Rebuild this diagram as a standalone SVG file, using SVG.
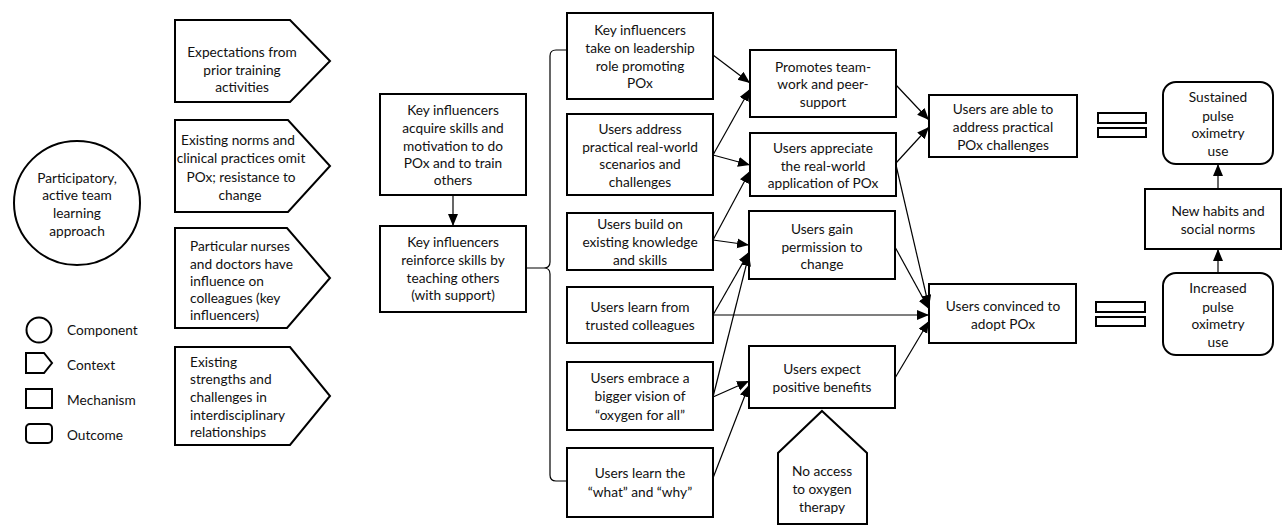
<svg xmlns="http://www.w3.org/2000/svg" width="1282" height="526" viewBox="0 0 1282 526">
<defs>
<marker id="ah" markerUnits="userSpaceOnUse" markerWidth="13" markerHeight="11" refX="12" refY="5" orient="auto" viewBox="0 0 13 11">
<path d="M0,0 L12,5 L0,10 z" fill="#000"/>
</marker>
<style>
.b{fill:#fff;stroke:#000;stroke-width:2}
.t{font-family:Lato,"Liberation Sans",sans-serif;font-size:13.7px;fill:#111;text-anchor:middle}
.l{font-family:Lato,"Liberation Sans",sans-serif;font-size:13.7px;fill:#111;text-anchor:start}
.c{fill:none;stroke:#000;stroke-width:1.2}
.a{fill:none;stroke:#000;stroke-width:1.2;marker-end:url(#ah)}
</style>
</defs>
<rect width="1282" height="526" fill="#fff"/>

<g id="component">
<ellipse class="b" cx="77" cy="203" rx="63" ry="62"/>
<text class="t" x="77" y="183">Participatory,</text>
<text class="t" x="77" y="200">active team</text>
<text class="t" x="77" y="218">learning</text>
<text class="t" x="77" y="236">approach</text>
</g>

<g id="legend">
<circle class="b" cx="39" cy="330" r="12.5"/>
<text class="l" x="67" y="335">Component</text>
<path class="b" d="M26,353 L44,353 L52,363 L44,373 L26,373 z"/>
<text class="l" x="67" y="370">Context</text>
<rect class="b" x="26" y="389" width="26" height="19"/>
<text class="l" x="67" y="405">Mechanism</text>
<rect class="b" x="26" y="424" width="26" height="19" rx="4"/>
<text class="l" x="67" y="440">Outcome</text>
</g>

<g id="ctx1">
<path class="b" d="M175,20 L290,20 L330,61 L290,102 L175,102 z"/>
<text class="t" x="242" y="57">Expectations from</text>
<text class="t" x="242" y="75">prior training</text>
<text class="t" x="242" y="92">activities</text>
</g>
<g id="ctx2">
<path class="b" d="M175,120 L288,120 L330,166 L288,212 L175,212 z"/>
<text class="t" x="238" y="145">Existing norms and</text>
<text class="t" x="241" y="163">clinical practices omit</text>
<text class="t" x="241" y="182">POx; resistance to</text>
<text class="t" x="240" y="200">change</text>
</g>
<g id="ctx3">
<path class="b" d="M175,228 L287,228 L330,278 L287,328 L175,328 z"/>
<text class="l" x="190" y="251">Particular nurses</text>
<text class="l" x="190" y="269">and doctors have</text>
<text class="l" x="190" y="286">influence on</text>
<text class="l" x="190" y="303">colleagues (key</text>
<text class="l" x="190" y="320">influencers)</text>
</g>
<g id="ctx4">
<path class="b" d="M175,347 L290,347 L330,396 L290,445 L175,445 z"/>
<text class="l" x="190" y="367">Existing</text>
<text class="l" x="190" y="384">strengths and</text>
<text class="l" x="190" y="402">challenges in</text>
<text class="l" x="190" y="420">interdisciplinary</text>
<text class="l" x="190" y="437">relationships</text>
</g>

<g id="acquire">
<rect class="b" x="380" y="94" width="146" height="101"/>
<text class="t" x="453" y="115">Key influencers</text>
<text class="t" x="453" y="133">acquire skills and</text>
<text class="t" x="453" y="151">motivation to do</text>
<text class="t" x="453" y="168">POx and to train</text>
<text class="t" x="453" y="185">others</text>
</g>
<g id="reinforce">
<rect class="b" x="380" y="226" width="146" height="86"/>
<text class="t" x="453" y="247">Key influencers</text>
<text class="t" x="453" y="265">reinforce skills by</text>
<text class="t" x="453" y="283">teaching others</text>
<text class="t" x="453" y="300">(with support)</text>
</g>

<g id="mA">
<rect class="b" x="567" y="13" width="146" height="86"/>
<text class="t" x="640" y="35">Key influencers</text>
<text class="t" x="640" y="53">take on leadership</text>
<text class="t" x="640" y="71">role promoting</text>
<text class="t" x="640" y="88">POx</text>
</g>
<g id="mB">
<rect class="b" x="567" y="114" width="146" height="81"/>
<text class="t" x="640" y="134">Users address</text>
<text class="t" x="640" y="152">practical real-world</text>
<text class="t" x="640" y="169">scenarios and</text>
<text class="t" x="640" y="187">challenges</text>
</g>
<g id="mC">
<rect class="b" x="567" y="213" width="146" height="57"/>
<text class="t" x="640" y="229">Users build on</text>
<text class="t" x="640" y="247">existing knowledge</text>
<text class="t" x="640" y="265">and skills</text>
</g>
<g id="mD">
<rect class="b" x="567" y="287" width="146" height="56"/>
<text class="t" x="640" y="312">Users learn from</text>
<text class="t" x="640" y="330">trusted colleagues</text>
</g>
<g id="mE">
<rect class="b" x="567" y="362" width="146" height="68"/>
<text class="t" x="640" y="383">Users embrace a</text>
<text class="t" x="640" y="401">bigger vision of</text>
<text class="t" x="640" y="420">“oxygen for all”</text>
</g>
<g id="mF">
<rect class="b" x="567" y="448" width="146" height="69"/>
<text class="t" x="640" y="478">Users learn the</text>
<text class="t" x="640" y="497">“what” and “why”</text>
</g>

<g id="mG">
<rect class="b" x="750" y="50" width="146" height="67"/>
<text class="t" x="823" y="72">Promotes team-</text>
<text class="t" x="823" y="89">work and peer-</text>
<text class="t" x="823" y="107">support</text>
</g>
<g id="mH">
<rect class="b" x="750" y="133" width="146" height="63"/>
<text class="t" x="823" y="153">Users appreciate</text>
<text class="t" x="823" y="171">the real-world</text>
<text class="t" x="823" y="188">application of POx</text>
</g>
<g id="mI">
<rect class="b" x="749" y="211" width="146" height="68"/>
<text class="t" x="822" y="234">Users gain</text>
<text class="t" x="822" y="252">permission to</text>
<text class="t" x="822" y="269">change</text>
</g>
<g id="mJ">
<rect class="b" x="749" y="346" width="146" height="62"/>
<text class="t" x="822" y="374">Users expect</text>
<text class="t" x="822" y="392">positive benefits</text>
</g>
<g id="ctxOxygen">
<path class="b" d="M822,411 L867,453 L867,524 L778,524 L778,453 z"/>
<text class="t" x="822" y="476">No access</text>
<text class="t" x="822" y="494">to oxygen</text>
<text class="t" x="822" y="512">therapy</text>
</g>

<g id="out1">
<rect class="b" x="929" y="95" width="148" height="62"/>
<text class="t" x="1003" y="114">Users are able to</text>
<text class="t" x="1003" y="132">address practical</text>
<text class="t" x="1003" y="150">POx challenges</text>
</g>
<g id="out2">
<rect class="b" x="929" y="284" width="147" height="59"/>
<text class="t" x="1003" y="311">Users convinced to</text>
<text class="t" x="1003" y="329">adopt POx</text>
</g>
<g id="eq1">
<rect class="b" x="1098" y="113" width="48" height="10"/>
<rect class="b" x="1098" y="128" width="48" height="9"/>
</g>
<g id="eq2">
<rect class="b" x="1096" y="302" width="49" height="10"/>
<rect class="b" x="1096" y="317" width="49" height="9"/>
</g>
<g id="sustained">
<rect class="b" x="1163" y="82" width="110" height="82" rx="13"/>
<text class="t" x="1218" y="102">Sustained</text>
<text class="t" x="1218" y="121">pulse</text>
<text class="t" x="1218" y="138">oximetry</text>
<text class="t" x="1218" y="156">use</text>
</g>
<g id="habits">
<rect class="b" x="1145" y="189" width="136" height="60"/>
<text class="t" x="1218" y="216">New habits and</text>
<text class="t" x="1218" y="234">social norms</text>
</g>
<g id="increased">
<rect class="b" x="1163" y="273" width="110" height="82" rx="13"/>
<text class="t" x="1218" y="293">Increased</text>
<text class="t" x="1218" y="312">pulse</text>
<text class="t" x="1218" y="329">oximetry</text>
<text class="t" x="1218" y="347">use</text>
</g>

<g id="connectors">
<path class="a" d="M453,195 L453,226"/>
<path class="c" d="M567,50 L556,50 Q550,50 550,56 L550,262 Q550,268 544,268 L527,268 M544,268 Q550,268 550,274 L550,475 Q550,481 556,481 L567,481"/>
<path class="a" d="M713,55 L750,83"/>
<path class="a" d="M713,155 L750,89"/>
<path class="a" d="M713,155 L750,165"/>
<path class="a" d="M713,240 L750,171"/>
<path class="a" d="M713,240 L749,245"/>
<path class="a" d="M713,315 L749,252"/>
<path class="a" d="M713,397 L749,254"/>
<path class="a" d="M713,315 L929,315"/>
<path class="a" d="M713,397 L749,381"/>
<path class="a" d="M713,478 L749,385"/>
<path class="a" d="M896,85 L929,120"/>
<path class="a" d="M896,163 L929,127"/>
<path class="a" d="M896,165 L929,307"/>
<path class="a" d="M895,247 L929,309"/>
<path class="a" d="M895,378 L929,321"/>
<path class="a" d="M1218,189 L1218,164"/>
<path class="a" d="M1218,273 L1218,249"/>
</g>
</svg>
